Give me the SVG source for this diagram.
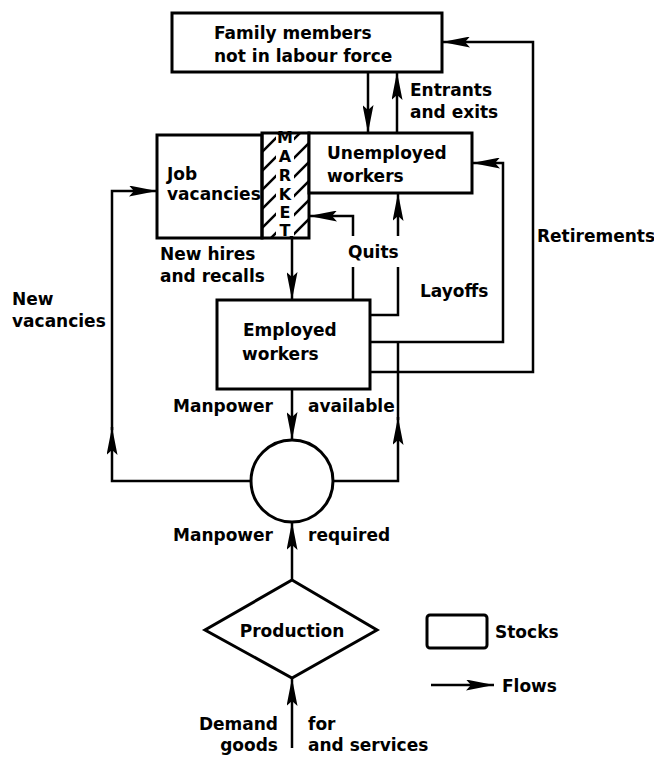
<svg xmlns="http://www.w3.org/2000/svg" width="654" height="757" viewBox="0 0 654 757">
<style>
  .box { fill: #fff; stroke: #000; stroke-width: 3; }
  .ln { fill: none; stroke: #000; stroke-width: 2.5; stroke-linejoin: miter; }
  .arr { marker-end: url(#ah); }
  text { font-family: "DejaVu Sans", "Liberation Sans", sans-serif; font-weight: bold; font-size: 17px; fill: #000; }
  .mk { font-size: 16px; text-anchor: middle; }
  .mid { text-anchor: middle; }
  .end { text-anchor: end; }
</style>
<defs>
  <marker id="ah" viewBox="0 0 28 11" refX="28" refY="5.5" markerWidth="28" markerHeight="11" markerUnits="userSpaceOnUse" orient="auto">
    <path d="M0,0 L28,5.5 L0,11 L5,5.5 z" fill="#000"/>
  </marker>
  <pattern id="hatch" patternUnits="userSpaceOnUse" x="262" y="133" width="19" height="19">
    <path d="M-4,4 L4,-4 M0,19 L19,0 M15,23 L23,15" stroke="#000" stroke-width="2.5"/>
  </pattern>
</defs>
<rect width="654" height="757" fill="#fff"/>

<g id="connectors">
  <!-- family <-> unemployed -->
  <path class="ln arr" d="M368,72 V133"/>
  <path class="ln arr" d="M397,133 V72"/>
  <!-- retirements -->
  <path class="ln arr" d="M370,372 H533 V42 H442"/>
  <!-- layoffs to unemployed right -->
  <path class="ln arr" d="M370,342 H503 V163 H472"/>
  <!-- layoffs up to unemployed bottom -->
  <path class="ln" d="M370,315 H398 V267"/>
  <path class="ln arr" d="M398,236 V193"/>
  <!-- quits -->
  <path class="ln" d="M353,300 V267"/>
  <path class="ln arr" d="M353,236 V216 H309"/>
  <!-- new hires -->
  <path class="ln arr" d="M292,238 V300"/>
  <!-- manpower available -->
  <path class="ln arr" d="M292,389 V440"/>
  <!-- circle right up -->
  <path class="ln arr" d="M333,481 H398 V417"/>
  <path class="ln" d="M398,420 V342"/>
  <!-- circle left to job vacancies -->
  <path class="ln arr" d="M250,481 H112 V427"/>
  <path class="ln arr" d="M112,430 V191 H157"/>
  <!-- manpower required -->
  <path class="ln arr" d="M292,580 V522"/>
  <!-- demand -->
  <path class="ln arr" d="M292,748 V678"/>

  <text x="410" y="96">Entrants</text>
  <text x="410" y="118">and exits</text>
  <text x="537" y="242">Retirements</text>
  <text x="420" y="297">Layoffs</text>
  <text x="348" y="258">Quits</text>
  <text x="160" y="260">New hires</text>
  <text x="160" y="282">and  recalls</text>
  <text x="12" y="305">New</text>
  <text x="12" y="327">vacancies</text>
  <text x="273" y="412" class="end">Manpower</text>
  <text x="308" y="412">available</text>
  <text x="273" y="541" class="end">Manpower</text>
  <text x="308" y="541">required</text>
  <text x="278" y="730" class="end">Demand</text>
  <text x="278" y="751" class="end">goods</text>
  <text x="308" y="730">for</text>
  <text x="308" y="751">and services</text>
</g>

<g id="family">
  <rect class="box" x="172" y="13" width="270" height="59"/>
  <text x="214" y="39">Family members</text>
  <text x="214" y="62">not in labour force</text>
</g>

<g id="job-vacancies">
  <rect class="box" x="157" y="135" width="105" height="103"/>
  <text x="167" y="180">Job</text>
  <text x="167" y="200">vacancies</text>
</g>

<g id="market">
  <rect x="262" y="133" width="47" height="105" fill="url(#hatch)" stroke="#000" stroke-width="3"/>
  <rect x="276" y="135" width="18" height="101" fill="#fff"/>
  <text class="mk" x="285" y="143">M</text>
  <text class="mk" x="285" y="162">A</text>
  <text class="mk" x="285" y="181">R</text>
  <text class="mk" x="285" y="200">K</text>
  <text class="mk" x="285" y="218">E</text>
  <text class="mk" x="285" y="236">T</text>
</g>

<g id="unemployed">
  <rect class="box" x="309" y="133" width="163" height="60"/>
  <text x="327" y="159">Unemployed</text>
  <text x="327" y="182">workers</text>
</g>

<g id="employed">
  <rect class="box" x="217" y="300" width="153" height="89"/>
  <text x="243" y="336">Employed</text>
  <text x="242" y="360">workers</text>
</g>

<g id="balance">
  <circle cx="292" cy="481" r="41" fill="#fff" stroke="#000" stroke-width="3"/>
</g>

<g id="production">
  <polygon points="292,580 377,630 292,678 205,630" fill="#fff" stroke="#000" stroke-width="3"/>
  <text class="mid" x="292" y="637">Production</text>
</g>

<g id="legend-stocks">
  <rect x="427" y="615" width="60" height="33" rx="3" fill="#fff" stroke="#000" stroke-width="3"/>
  <text x="495" y="638">Stocks</text>
</g>

<g id="legend-flows">
  <path class="ln arr" d="M431,685 H494"/>
  <text x="502" y="692">Flows</text>
</g>
</svg>
